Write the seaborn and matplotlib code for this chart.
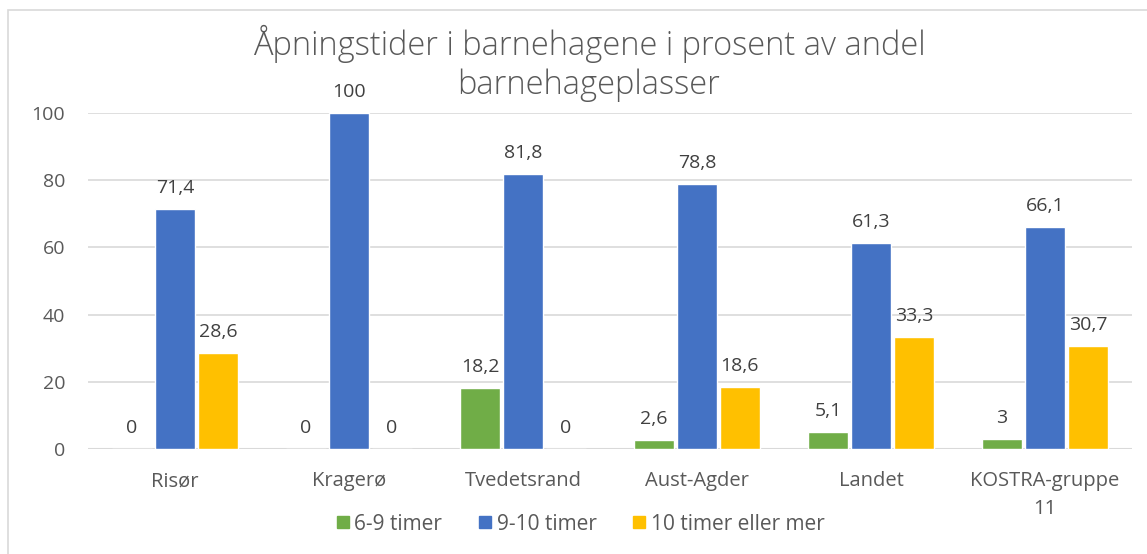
import matplotlib
matplotlib.use("Agg")
from matplotlib.patches import Rectangle
import matplotlib.pyplot as plt
import seaborn as sns
import pandas as pd

categories = ["Risør", "Kragerø", "Tvedetsrand", "Aust-Agder", "Landet", "KOSTRA-gruppe\n11"]
series_names = ["6-9 timer", "9-10 timer", "10 timer eller mer"]
vals_6_9 = [0, 0, 18.2, 2.6, 5.1, 3]
vals_9_10 = [71.4, 100, 81.8, 78.8, 61.3, 66.1]
vals_10_plus = [28.6, 0, 0, 18.6, 33.3, 30.7]
yticks = [0, 20, 40, 60, 80, 100]
title_lines = ["Åpningstider i barnehagene i prosent av andel", "barnehageplasser"]

colors = ["#70AD47", "#4472C4", "#FFC000"]
text_col = "#595959"
grid_col = "#D9D9D9"

sns.set_style("white")
plt.rcParams["font.family"] = ["Open Sans", "DejaVu Sans"]

rows = []
for name, vals in zip(series_names, [vals_6_9, vals_9_10, vals_10_plus]):
    for c, v in zip(categories, vals):
        rows.append({"kategori": c, "serie": name, "verdi": v})
df = pd.DataFrame(rows)

fig = plt.figure(figsize=(11.47, 5.54), dpi=100)
ax = fig.add_axes([88 / 1147, 1 - 449 / 554, 1044 / 1147, 336 / 554])

sns.barplot(data=df, x="kategori", y="verdi", hue="serie", order=categories,
            hue_order=series_names, palette=colors, width=0.74, gap=0.07,
            saturation=1, ax=ax, zorder=2, legend=False)

def fmt(v):
    return f"{v:g}".replace(".", ",")

for cont, vals in zip(ax.containers, [vals_6_9, vals_9_10, vals_10_plus]):
    ax.bar_label(cont, labels=[fmt(v) for v in vals], padding=8.5,
                 fontsize=14, color="#404040")

ax.set_ylim(0, 100)
ax.set_xlim(-0.5, len(categories) - 0.5)
ax.set_yticks(yticks)
ax.yaxis.grid(True, color=grid_col, lw=1.2, zorder=0)
ax.set_axisbelow(True)
for s in ax.spines.values():
    s.set_visible(False)
ax.axhline(0, color=grid_col, lw=1.5, zorder=1)
ax.tick_params(axis="both", length=0, labelcolor=text_col)
ax.tick_params(axis="x", pad=16, labelsize=14.5)
ax.tick_params(axis="y", pad=16.5, labelsize=14)
for lab in ax.get_xticklabels():
    lab.set_linespacing(1.5)
ax.set_xlabel("")
ax.set_ylabel("")

# title in two lines, Excel style
for i, line in enumerate(title_lines):
    fig.text(589 / 1147, 1 - (55 + 39 * i) / 554, line,
             ha="center", va="baseline", fontsize=23.5, fontweight="light",
             color=text_col)

handles = [plt.Line2D([], [], marker="s", ls="", color=c, markersize=9) for c in colors]
fig.legend(handles, series_names, loc="center", bbox_to_anchor=(579 / 1147, 1 - 524 / 554),
           ncol=3, frameon=False, fontsize=15, labelcolor=text_col,
           handletextpad=0.1, columnspacing=1.6, handlelength=0.9)

fig.patches.append(Rectangle((8 / 1147, -0.05), 1.2, 1 - 10 / 554 + 0.05,
                             transform=fig.transFigure, fill=False,
                             ec=grid_col, lw=1.2, zorder=0))

fig.savefig("out.png", dpi=100)
